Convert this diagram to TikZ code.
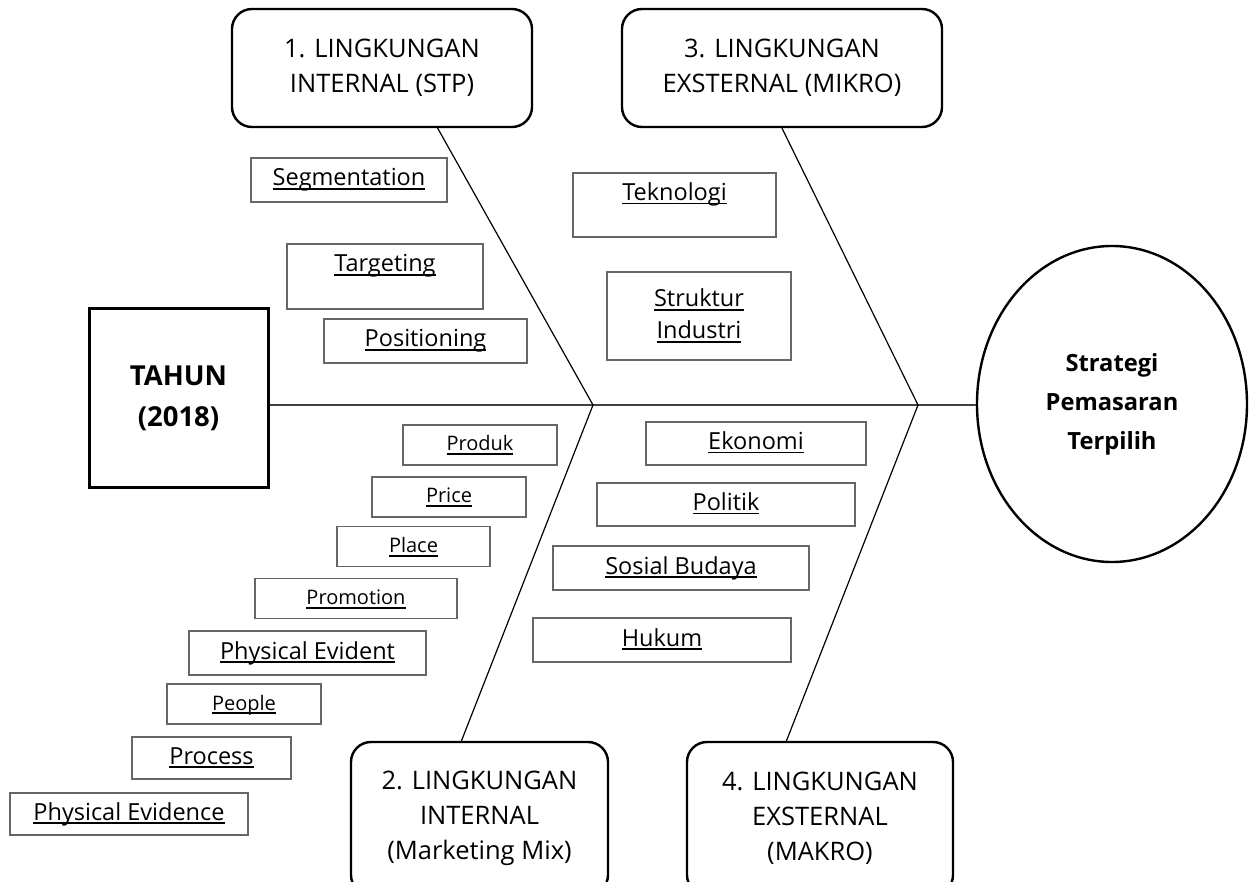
\documentclass[tikz,border=0pt]{standalone}
\usepackage{fontspec}
\setmainfont{Open Sans}
\usetikzlibrary{shapes.geometric}
\newcommand\undl[1]{\leavevmode\setbox0\hbox{#1}\rlap{\rule[-4pt]{\wd0}{1.6pt}}\box0}

\begin{document}
\begin{tikzpicture}[x=1pt,y=-1pt]
    \tikzset{%
      bxs/.style={draw=black!60, line width=1.2pt, inner sep=0pt,
        font=\fontsize{23.5}{32}\selectfont},
      bx/.style={bxs, text height=17pt, text depth=5pt},
      sbx/.style={bx, font=\fontsize{20}{26}\selectfont},
      hd/.style={draw, line width=2.4pt, rounded corners=20pt, align=center,
        inner sep=0pt, font=\fontsize{25.5}{35}\selectfont},
      bone/.style={line width=1.2pt},
    }
    \useasboundingbox (0,0) rectangle (1251,882);

    \node[draw, line width=3pt, minimum width=179, minimum height=179, align=center,
      font=\bfseries\fontsize{27.5}{41}\selectfont] (T) at (178.5,398.5) {TAHUN\\(2018)};
    \node[draw, ellipse, line width=2.4pt, minimum width=270, minimum height=316, align=center,
      font=\bfseries\fontsize{23.7}{39}\selectfont] (C) at (1112,404) {Strategi\\Pemasaran\\Terpilih};

    \node[hd, minimum width=300, minimum height=118] (K1) at (382,68) {1. LINGKUNGAN\\INTERNAL (STP)};
    \node[hd, minimum width=320, minimum height=118] (K3) at (782,68) {3. LINGKUNGAN\\EXSTERNAL (MIKRO)};
    \node[hd, minimum width=257, minimum height=153] (K2) at (479.5,818.5) {2. LINGKUNGAN\\INTERNAL\\(Marketing Mix)};
    \node[hd, minimum width=266, minimum height=153] (K4) at (820,818.5) {4. LINGKUNGAN\\EXSTERNAL\\(MAKRO)};

    \coordinate (J1) at (593,405);
    \coordinate (J2) at (918,405);
    \coordinate (A1) at (437,127);
    \coordinate (A2) at (461,742);
    \coordinate (A4) at (786,742);
    \draw [line width=1.5pt, black!75] (T.east |- J1) -- (C.west |- J2);
    \draw [bone] (A1) -- (J1) -- (A2);
    \draw [bone] (K3.south) -- (J2) -- (A4);

    % STP
    \node[bx, minimum width=196, minimum height=44] (S1) at (349,180) {\undl{Segmentation}};
    \node[bx, text depth=26pt, minimum width=196, minimum height=65] (S2) at (385,276.5) {\undl{Targeting}};
    \node[bx, minimum width=203, minimum height=44] (S3) at (425.5,341) {\undl{Positioning}};

    % mikro
    \node[bx, text depth=26pt, minimum width=203, minimum height=64] (E1) at (674.5,205) {\undl{Teknologi}};
    \node[bxs, align=center, minimum width=184, minimum height=88] (E2) at (699,316) {\undl{Struktur}\\\undl{Industri}};

    % marketing mix
    \node[sbx, minimum width=154, minimum height=40] (M1) at (480,445) {\undl{Produk}};
    \node[sbx, minimum width=154, minimum height=40] (M2) at (449,497) {\undl{Price}};
    \node[sbx, minimum width=153, minimum height=40] (M3) at (413.5,546.5) {\undl{Place}};
    \node[sbx, minimum width=202, minimum height=40] (M4) at (356,598.5) {\undl{Promotion}};
    \node[bx, minimum width=237, minimum height=44] (M5) at (307.5,653) {\undl{Physical Evident}};
    \node[sbx, minimum width=154, minimum height=40] (M6) at (244,704) {\undl{People}};
    \node[bx, minimum width=159, minimum height=42] (M7) at (211.5,758) {\undl{Process}};
    \node[bx, minimum width=238, minimum height=42] (M8) at (129,814) {\undl{Physical Evidence}};

    % makro
    \node[bx, minimum width=220, minimum height=43] (E3) at (756,443.5) {\undl{Ekonomi}};
    \node[bx, minimum width=258, minimum height=43] (E4) at (726,504.5) {\undl{Politik}};
    \node[bx, minimum width=256, minimum height=44] (E5) at (681,568) {\undl{Sosial Budaya}};
    \node[bx, minimum width=258, minimum height=44] (E6) at (662,640) {\undl{Hukum}};
  \end{tikzpicture}
\end{document}
